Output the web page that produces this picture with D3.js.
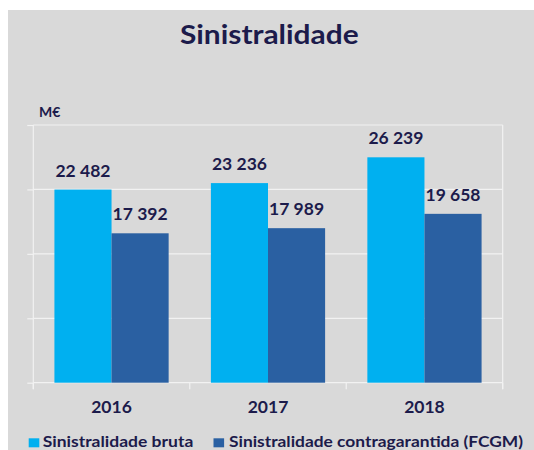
<!DOCTYPE html>
<html>
<head>
<meta charset="utf-8">
<script src="https://cdn.jsdelivr.net/npm/d3@7"></script>
<style>
  html, body { margin: 0; padding: 0; background: #ffffff; }
  svg { display: block; }
  text { font-family: Lato, "Open Sans", sans-serif; font-weight: bold; fill: #1c1b4b; }
</style>
</head>
<body>
<svg id="chart" width="534" height="450"></svg>
<script>
const categories = ["2016", "2017", "2018"];
const seriesNames = ["Sinistralidade bruta", "Sinistralidade contragarantida (FCGM)"];
const bruta = [22482, 23236, 26239];
const contragarantida = [17392, 17989, 19658];
const yTicks = [0, 7500, 15000, 22500, 30000];
const colors = ["#00b0f0", "#2a60a2"];
const title = "Sinistralidade";
const unitLabel = "M€";

(function () {
const svg = d3.select("#chart");
const W = 534, H = 450;

// background panel
svg.append("rect").attr("x", 8).attr("y", 10).attr("width", W - 8).attr("height", H - 10).attr("fill", "#d9d9d9");

const pLeft = 33.3, pRight = 502.7, pTop = 125, pBottom = 382.7;

const x0 = d3.scaleBand().domain(categories).range([pLeft, pRight]).paddingInner(0.27).paddingOuter(0.135);
const x1 = d3.scaleBand().domain([0, 1]).range([0, x0.bandwidth()]).padding(0);
const y = d3.scaleLinear().domain([0, 30000]).range([pBottom, pTop]);

const gridColor = "#f2f2f2";

// left ticks
const yAxis = d3.axisLeft(y).tickValues(yTicks).tickSize(6).tickFormat("");
const gy = svg.append("g").attr("transform", `translate(${pLeft},0)`).call(yAxis);
gy.select(".domain").remove();
gy.selectAll("line").attr("stroke", gridColor).attr("stroke-width", 1.2);
// gridlines
svg.append("g").selectAll("line").data(yTicks).join("line")
  .attr("x1", pLeft).attr("x2", pRight)
  .attr("y1", d => y(d)).attr("y2", d => y(d))
  .attr("stroke", gridColor).attr("stroke-width", 1.2);

// left axis and right border
svg.append("line").attr("x1", pLeft).attr("x2", pLeft).attr("y1", pTop).attr("y2", pBottom + 6.5).attr("stroke", gridColor).attr("stroke-width", 1.2);
svg.append("line").attr("x1", pRight).attr("x2", pRight).attr("y1", pTop).attr("y2", pBottom + 6.5).attr("stroke", gridColor).attr("stroke-width", 1.2);

// category boundary ticks
const step = x0.step();
const boundaries = d3.range(categories.length + 1).map(i => pLeft + i * step);
svg.append("g").selectAll("line").data(boundaries).join("line")
  .attr("x1", d => d).attr("x2", d => d)
  .attr("y1", pBottom).attr("y2", pBottom + 6.5)
  .attr("stroke", gridColor).attr("stroke-width", 1.2);

// bars
const data = categories.map((c, i) => ({ cat: c, vals: [bruta[i], contragarantida[i]] }));
const groups = svg.append("g").selectAll("g").data(data).join("g")
  .attr("transform", d => `translate(${x0(d.cat)},0)`);
groups.selectAll("rect").data(d => d.vals.map((v, k) => ({ v, k }))).join("rect")
  .attr("x", d => x1(d.k))
  .attr("y", d => y(d.v))
  .attr("width", x1.bandwidth())
  .attr("height", d => y(0) - y(d.v))
  .attr("fill", d => colors[d.k]);
const fmt = v => d3.format(",")(v).replace(/,/g, " ");
groups.selectAll("text.val").data(d => d.vals.map((v, k) => ({ v, k }))).join("text")
  .attr("class", "val")
  .attr("x", d => x1(d.k) + x1.bandwidth() / 2)
  .attr("y", d => y(d.v) - 13)
  .attr("text-anchor", "middle")
  .attr("font-size", 17.5)
  .text(d => fmt(d.v));

// category labels
svg.append("g").selectAll("text").data(categories).join("text")
  .attr("x", d => x0(d) + x0.bandwidth() / 2)
  .attr("y", 412.7)
  .attr("text-anchor", "middle")
  .attr("font-size", 17.5)
  .text(d => d);

// title
svg.append("text").attr("x", 269.3).attr("y", 44.3).attr("text-anchor", "middle")
  .attr("font-size", 26).attr("textLength", 178.7).attr("lengthAdjust", "spacingAndGlyphs").text(title);

// unit
svg.append("text").attr("x", 39).attr("y", 117).attr("font-size", 14).text(unitLabel);

// legend
const legendPos = [{ sx: 28.7, tx: 42.7, tw: 150.6 }, { sx: 213.5, tx: 229, tw: 294 }];
const lg = svg.append("g").selectAll("g").data(seriesNames).join("g");
lg.append("rect").attr("x", (d, i) => legendPos[i].sx).attr("y", 438.3).attr("width", 10.6).attr("height", 9).attr("fill", (d, i) => colors[i]);
lg.append("text").attr("x", (d, i) => legendPos[i].tx).attr("y", 447.3).attr("font-size", 16)
  .attr("textLength", (d, i) => legendPos[i].tw).attr("lengthAdjust", "spacingAndGlyphs").text(d => d);
})();
</script>
</body>
</html>
